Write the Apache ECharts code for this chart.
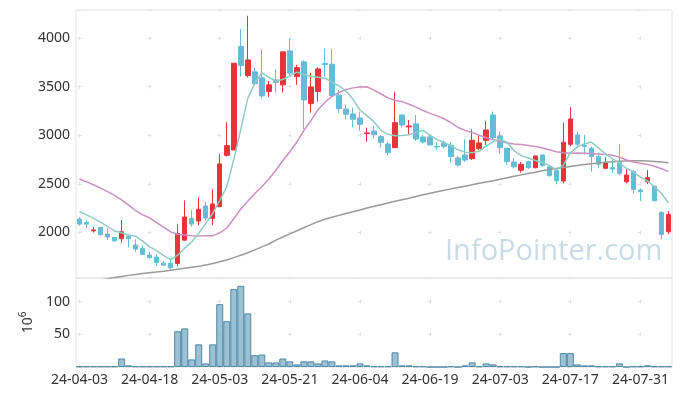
<!DOCTYPE html>
<html><head><meta charset="utf-8">
<script src="https://cdn.jsdelivr.net/npm/echarts@6/dist/echarts.min.js"></script>
<style>html,body{margin:0;padding:0;background:#fff}#c{width:680px;height:396px}</style>
</head><body><div id="c"></div>
<script>
const dates = ['24-04-03','24-04-04','24-04-05','24-04-08','24-04-09','24-04-11','24-04-12','24-04-15','24-04-16','24-04-17','24-04-18','24-04-19','24-04-22','24-04-23','24-04-24','24-04-25','24-04-26','24-04-29','24-04-30',
'24-05-02','24-05-03','24-05-07','24-05-08','24-05-09','24-05-10','24-05-13','24-05-14','24-05-16','24-05-17','24-05-20','24-05-21','24-05-22','24-05-23','24-05-24','24-05-27','24-05-28','24-05-29','24-05-30','24-05-31',
'24-06-03','24-06-04','24-06-05','24-06-07','24-06-10','24-06-11','24-06-12','24-06-13','24-06-14','24-06-17','24-06-18','24-06-19','24-06-20','24-06-21','24-06-24','24-06-25','24-06-26','24-06-27','24-06-28',
'24-07-01','24-07-02','24-07-03','24-07-04','24-07-05','24-07-08','24-07-09','24-07-10','24-07-11','24-07-12','24-07-15','24-07-16','24-07-17','24-07-18','24-07-19','24-07-22','24-07-23','24-07-24','24-07-25','24-07-26','24-07-29','24-07-30','24-07-31',
'24-08-01','24-08-02','24-08-05','24-08-06'];

const opens  = [2137,2103,2015,2050,1982,1948,1934,1959,1869,1835,1766,1745,1683,1683,1680,1920,2144,2117,2271,2144,2264,2794,2848,3913,3614,3653,3591,3450,3570,3519,3869,3604,3756,3326,3450,3740,3732,3412,3271,3220,3178,3017,3044,2986,2910,2872,3209,3086,3117,2982,2982,2886,2917,2896,2766,2797,2759,2862,2948,3209,2993,2866,2725,2639,2729,2666,2797,2676,2635,2529,2907,3003,2895,2866,2780,2660,2666,2721,2521,2625,2436,2521,2477,2205,2006];
const closes = [2085,2085,2025,1975,1952,1913,2006,1934,1828,1773,1740,1690,1663,1635,1989,2158,2085,2237,2147,2292,2705,2893,3742,3718,3776,3530,3405,3519,3545,3859,3640,3697,3364,3498,3683,3728,3408,3274,3216,3165,3113,3024,3005,2927,2821,3130,3106,3096,2961,2931,2900,2880,2886,2780,2694,2745,2948,2921,3055,2975,2872,2729,2676,2701,2666,2787,2687,2584,2532,2929,3168,2907,2885,2780,2701,2711,2652,2608,2590,2443,2420,2563,2325,1979,2185];
const lows   = [2068,2045,1998,1975,1920,1905,1893,1845,1800,1766,1728,1652,1652,1620,1652,1913,2058,2072,2120,2072,2260,2780,2848,3604,3594,3515,3381,3392,3440,3440,3604,3519,3062,3232,3346,3604,3405,3227,3165,3082,3047,2934,2968,2876,2793,2870,3079,3013,2941,2920,2900,2848,2866,2717,2676,2725,2745,2848,2900,2952,2814,2694,2660,2615,2652,2660,2676,2574,2495,2505,2890,2866,2800,2625,2660,2650,2608,2590,2505,2402,2323,2498,2320,1928,1982];
const highs  = [2155,2120,2058,2058,2040,1950,2127,1965,1928,1866,1800,1773,1707,1728,2082,2330,2230,2361,2316,2443,2807,3134,3742,4096,4230,3697,3887,3557,3680,3860,3993,3725,3770,3645,3700,3893,3890,3467,3312,3285,3243,3079,3096,3003,2927,3450,3210,3158,3210,3003,3003,2927,2948,2927,2787,2960,3062,3000,3148,3245,3037,2866,2762,2725,2738,2790,2797,2694,2660,3130,3288,3037,3003,2883,2821,2773,2752,2910,2650,2642,2453,2642,2480,2219,2219];

const volumes = [1,1,1,1,1,1,13,2.5,1,1,1,1,1,1,54.6,59,11.6,34.6,5.5,34.6,96,70,119,124,82,18,19,7,7,13,8.6,4,8.6,8.6,5.5,10,8.6,2.5,2.5,2.5,5.5,2.5,1,1,1,22.4,2.5,2.5,1,1,0,0,0,1,0,2.5,7,1,5.5,4,1,1,1,1,0,1,0,0,0,21.3,21.3,4,2.5,2.5,1,1,1,5.5,0,1,1,2.5,1,1,1];

const ma5 = [2213,2180,2144,2105,2060,2015,1995,1972,1960,1910,1850,1812,1760,1720,1765,1837,1900,1990,2092,2196,2328,2470,2750,3060,3380,3536,3645,3595,3560,3575,3610,3650,3625,3608,3598,3588,3545,3510,3455,3370,3260,3200,3140,3050,3010,2995,2998,3005,3030,3050,3000,2955,2925,2890,2850,2825,2820,2835,2890,2935,2960,2925,2840,2790,2765,2740,2720,2690,2645,2690,2820,2880,2910,2930,2870,2810,2760,2715,2660,2620,2570,2530,2470,2400,2305];
const ma20 = [2550,2520,2490,2455,2420,2380,2335,2280,2225,2180,2150,2100,2055,2005,1980,1972,1965,1963,1964,1966,1995,2045,2140,2240,2320,2400,2470,2550,2640,2740,2830,2930,3050,3150,3260,3340,3400,3440,3470,3488,3498,3500,3465,3425,3385,3360,3346,3320,3290,3255,3225,3200,3170,3130,3080,3050,3030,3000,2975,2955,2935,2920,2910,2905,2895,2885,2868,2850,2830,2820,2816,2818,2816,2812,2808,2803,2795,2775,2745,2725,2712,2700,2680,2655,2625];
const maLong = [1470,1485,1498,1510,1522,1534,1546,1557,1567,1576,1584,1592,1600,1610,1620,1630,1640,1650,1665,1680,1697,1715,1740,1765,1790,1820,1850,1880,1920,1952,1984,2016,2048,2080,2110,2135,2155,2175,2195,2212,2230,2250,2268,2285,2302,2320,2336,2352,2370,2388,2403,2418,2433,2448,2462,2476,2490,2505,2518,2532,2548,2562,2578,2592,2606,2620,2634,2647,2658,2668,2678,2688,2698,2707,2715,2722,2728,2732,2735,2737,2737,2735,2730,2725,2718];

const priceTicks = [2000, 2500, 3000, 3500, 4000];
const volumeTicks = [50, 100];

const candles = dates.map((d, i) => [opens[i], closes[i], lows[i], highs[i]]);

const FONT = 'Noto Sans';
const GRIDC = '#e2e2e2';
const chart = echarts.init(document.getElementById('c'));
chart.setOption({
  animation: false,
  backgroundColor: '#fff',
  textStyle: { fontFamily: FONT },
  graphic: [{
    type: 'text', left: 445, top: 237, z: 0, silent: true,
    style: { text: 'InfoPointer.com', fontSize: 29, fontFamily: 'Open Sans', fill: '#c9dce6' }
  }],
  grid: [
    { left: 76, right: 8, top: 10, height: 268, show: true, borderColor: '#e2e2e2', borderWidth: 1 },
    { left: 76, right: 8, top: 278, height: 89, show: true, borderColor: '#e2e2e2', borderWidth: 1 }
  ],
  xAxis: [
    { type: 'category', gridIndex: 0, data: dates, boundaryGap: true,
      axisLine: { show: false }, axisTick: { show: false }, axisLabel: { show: false },
      splitLine: { show: true, interval: 9, alignWithLabel: true,
        lineStyle: { color: GRIDC, width: 1, type: [4, 44.55], dashOffset: 22.25 } } },
    { type: 'category', gridIndex: 1, data: dates, boundaryGap: true,
      axisLine: { show: false }, axisTick: { show: false },
      axisLabel: { interval: 9, color: '#333', fontSize: 14, fontFamily: FONT, margin: 6 },
      splitLine: { show: true, interval: 9, alignWithLabel: true,
        lineStyle: { color: GRIDC, width: 1, type: [4, 28.7], dashOffset: 11.1 } } }
  ],
  yAxis: [
    { type: 'value', gridIndex: 0, min: 1530, max: 4290, scale: true,
      axisLine: { show: false }, axisTick: { show: false },
      axisLabel: { color: '#333', fontSize: 14, fontFamily: FONT, margin: 6,
        showMinLabel: false, showMaxLabel: false,
        formatter: v => priceTicks.includes(v) ? String(v) : '' },
      splitLine: { show: true, lineStyle: { color: GRIDC, width: 1, type: [4, 66], dashOffset: 68.5 } } },
    { type: 'value', gridIndex: 1, min: 0, max: 136, interval: 50,
      axisLine: { show: false }, axisTick: { show: false },
      axisLabel: { color: '#333', fontSize: 14, fontFamily: FONT, margin: 6,
        showMinLabel: false, showMaxLabel: false,
        formatter: v => volumeTicks.includes(v) ? String(v) : '' },
      splitLine: { show: true, lineStyle: { color: GRIDC, width: 1, type: [4, 66], dashOffset: 68.5 } },
      name: '{b|10}{s|6}', nameLocation: 'middle', nameGap: 36, nameRotate: 90,
      nameTextStyle: { color: '#333', rich: {
        b: { fontSize: 14, fontFamily: FONT, color: '#333', lineHeight: 20 },
        s: { fontSize: 10, fontFamily: FONT, color: '#333', verticalAlign: 'top', lineHeight: 12 } } } }
  ],
  series: [
    { type: 'candlestick', xAxisIndex: 0, yAxisIndex: 0, data: candles, barWidth: 5,
      itemStyle: { color: '#e8333b', color0: '#63bdd7', borderColor: '#e8333b', borderColor0: '#63bdd7', borderWidth: 1 } },
    { type: 'line', xAxisIndex: 0, yAxisIndex: 0, data: maLong, showSymbol: false, symbol: 'none', clip: true,
      lineStyle: { color: '#9a9a9a', width: 1.5 }, z: 3 },
    { type: 'line', xAxisIndex: 0, yAxisIndex: 0, data: ma20, showSymbol: false, symbol: 'none', clip: true,
      lineStyle: { color: '#cc8fc4', width: 1.5 }, z: 3 },
    { type: 'line', xAxisIndex: 0, yAxisIndex: 0, data: ma5, showSymbol: false, symbol: 'none', clip: true,
      lineStyle: { color: '#8fcdc2', width: 1.5 }, z: 3 },
    { type: 'bar', xAxisIndex: 1, yAxisIndex: 1, data: volumes, barCategoryGap: 0, barWidth: '100%',
      itemStyle: { color: 'rgba(122,172,196,0.75)', borderColor: '#4e8aa8', borderWidth: 1 } }
  ]
});
</script></body></html>
